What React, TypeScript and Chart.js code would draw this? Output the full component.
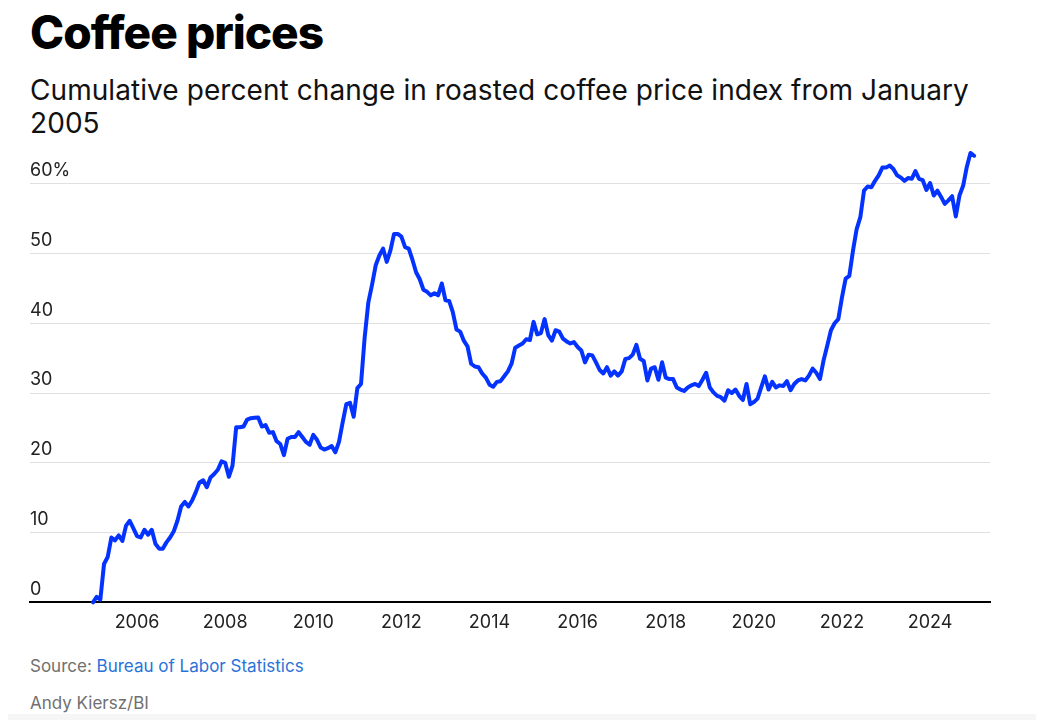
import React, { useEffect, useRef } from "react";
import { Chart, registerables } from "chart.js";

Chart.register(...registerables);

const titleText = "Coffee prices";
const subtitleLine1 = "Cumulative percent change in roasted coffee price index from January";
const subtitleLine2 = "2005";
const sourceLabel = "Source:";
const sourceName = "Bureau of Labor Statistics";
const creditText = "Andy Kiersz/BI";

// Monthly values, Jan 2005 ... Jan 2025 (percent change since Jan 2005)
const startYear = 2005;
const monthlyChange = [
  // 2005
  0, 0.8, 0.4, 5.5, 6.5, 9.3, 8.9, 9.6, 8.8, 11.0, 11.7, 10.6,
  // 2006
  9.5, 9.3, 10.4, 9.7, 10.4, 8.4, 7.7, 7.7, 8.6, 9.3, 10.2, 11.7,
  // 2007
  13.75, 14.4, 13.75, 14.6, 15.8, 17.2, 17.5, 16.5, 17.9, 18.4, 19.0, 20.2,
  // 2008
  20.0, 18.0, 19.6, 25.1, 25.1, 25.2, 26.2, 26.4, 26.45, 26.5, 25.2, 25.4,
  // 2009
  24.3, 24.4, 23.1, 22.7, 21.1, 23.45, 23.7, 23.7, 24.4, 23.7, 23.0, 22.6,
  // 2010
  24.0, 23.3, 22.2, 21.9, 22.1, 22.4, 21.5, 23.0, 25.8, 28.4, 28.6, 26.6,
  // 2011
  30.7, 31.3, 38.0, 43.0, 45.5, 48.3, 49.7, 50.7, 48.8, 50.4, 52.8, 52.8,
  // 2012
  52.4, 50.9, 50.7, 49.1, 47.3, 46.3, 44.8, 44.5, 44.0, 44.3, 44.0, 45.7,
  // 2013
  43.3, 43.2, 41.6, 39.1, 38.8, 37.5, 36.7, 34.2, 33.8, 33.7, 32.8, 32.2,
  // 2014
  31.2, 30.9, 31.6, 31.7, 32.4, 33.1, 34.2, 36.5, 36.8, 37.1, 37.7, 37.6,
  // 2015
  40.2, 38.4, 38.6, 40.6, 38.3, 37.5, 39.0, 38.8, 37.8, 37.4, 37.1, 37.3,
  // 2016
  36.6, 36.1, 34.4, 35.5, 35.4, 34.4, 33.3, 32.8, 33.7, 32.5, 33.1, 32.5,
  // 2017
  33.1, 34.9, 35.0, 35.5, 36.9, 34.9, 34.6, 31.8, 33.5, 33.7, 31.9, 34.4,
  // 2018
  32.2, 32.0, 32.0, 30.8, 30.5, 30.3, 30.8, 31.1, 31.3, 31.0, 31.9, 32.9,
  // 2019
  30.8, 30.1, 29.6, 29.4, 28.9, 30.4, 30.0, 30.5, 29.6, 29.0, 31.3, 28.4,
  // 2020
  28.7, 29.2, 30.8, 32.4, 30.5, 31.6, 30.8, 31.1, 31.0, 31.7, 30.4, 31.3,
  // 2021
  31.8, 32.0, 31.8, 32.5, 33.5, 32.9, 32.0, 34.7, 36.8, 39.0, 40.0, 40.6,
  // 2022
  43.7, 46.4, 46.8, 50.4, 53.5, 55.2, 59.0, 59.6, 59.5, 60.4, 61.2, 62.3,
  // 2023
  62.3, 62.6, 62.1, 61.2, 60.9, 60.4, 60.8, 60.7, 61.8, 60.7, 60.5, 59.1,
  // 2024
  60.1, 58.3, 59.0, 58.1, 57.1, 57.6, 58.2, 55.3, 58.3, 59.7, 62.4, 64.4,
  // 2025
  64.0,
];

const xTickYears = [2006, 2008, 2010, 2012, 2014, 2016, 2018, 2020, 2022, 2024];
const yTickValues = [0, 10, 20, 30, 40, 50, 60];
const xMin = 2003.57;
const xMax = 2025.36;
const yMin = 0;
const yMax = 66;

const FONT = "Inter, 'Liberation Sans', Arial, sans-serif";

export default function App() {
  const canvasRef = useRef<HTMLCanvasElement | null>(null);

  useEffect(() => {
    if (!canvasRef.current) return;
    const points = monthlyChange.map((v, i) => ({ x: startYear + i / 12, y: v }));
    const chart = new Chart(canvasRef.current, {
      type: "line",
      data: {
        datasets: [
          {
            data: points,
            borderColor: "#0433ff",
            borderWidth: 4,
            pointRadius: 0,
            tension: 0,
            fill: false,
            borderJoinStyle: "round",
            borderCapStyle: "round",
            clip: false,
          } as any,
        ],
      },
      options: {
        animation: false,
        responsive: false,
        maintainAspectRatio: false,
        layout: { padding: { left: 22, right: 46, top: 1, bottom: 0 } },
        plugins: { legend: { display: false }, tooltip: { enabled: false } },
        scales: {
          x: {
            type: "linear",
            min: xMin,
            max: xMax,
            grid: { display: false, drawTicks: false },
            border: { display: true, color: "#000000", width: 2 },
            afterBuildTicks: (scale: any) => {
              scale.ticks = xTickYears.map((v) => ({ value: v }));
            },
            ticks: {
              autoSkip: false,
              maxRotation: 0,
              minRotation: 0,
              padding: 9,
              color: "#222222",
              font: { family: FONT, size: 18 },
              callback: (v: any) => String(v),
            },
          },
          y: {
            type: "linear",
            min: yMin,
            max: yMax,
            grid: { color: "#e0e0e0", lineWidth: 1, drawTicks: false },
            border: { display: false },
            afterBuildTicks: (scale: any) => {
              scale.ticks = yTickValues.map((v) => ({ value: v }));
            },
            ticks: {
              mirror: true,
              padding: 0,
              labelOffset: -13,
              color: "#222222",
              font: { family: FONT, size: 18 },
              callback: (v: any) => (v === 60 ? "60%" : String(v)),
            },
          },
        },
      } as any,
    });
    return () => chart.destroy();
  }, []);

  return (
    <div style={{ position: "relative", width: 1028, height: 712, fontFamily: FONT }}>
      <div
        style={{
          position: "absolute",
          left: 22,
          top: 1.3,
          fontSize: 46,
          lineHeight: "46px",
          fontWeight: 800,
          letterSpacing: "-1px",
          color: "#000",
          whiteSpace: "nowrap",
        }}
      >
        {titleText}
      </div>
      <div
        style={{
          position: "absolute",
          left: 22,
          top: 65.8,
          fontSize: 28,
          lineHeight: "33px",
          fontWeight: 400,
          letterSpacing: "0.07px",
          color: "#111",
          whiteSpace: "nowrap",
        }}
      >
        {subtitleLine1}
        <br />
        {subtitleLine2}
      </div>
      <canvas
        ref={canvasRef}
        width={1028}
        height={511}
        style={{ position: "absolute", left: 0, top: 123, display: "block" }}
      />
      <div
        style={{
          position: "absolute",
          left: 22,
          top: 650.3,
          fontSize: 17,
          lineHeight: "17px",
          color: "#707070",
          whiteSpace: "nowrap",
        }}
      >
        {sourceLabel} <span style={{ color: "#2a72d8" }}>{sourceName}</span>
      </div>
      <div
        style={{
          position: "absolute",
          left: 22,
          top: 687.3,
          fontSize: 17,
          lineHeight: "17px",
          color: "#707070",
          whiteSpace: "nowrap",
        }}
      >
        {creditText}
      </div>
      <div
        style={{
          position: "absolute",
          left: -8,
          top: 706,
          width: 1044,
          height: 14,
          background: "#f6f6f6",
        }}
      />
    </div>
  );
}
